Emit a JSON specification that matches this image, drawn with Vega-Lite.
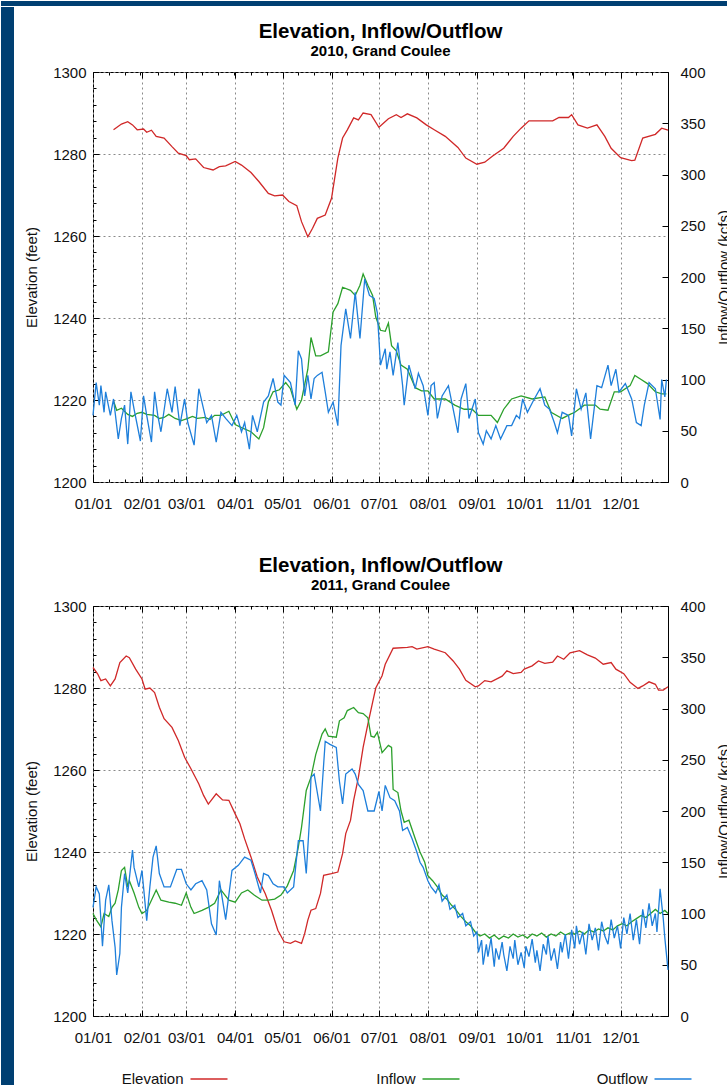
{
  "$schema": "https://vega.github.io/schema/vega-lite/v6.json",
  "padding": 0,
  "background": "white",
  "config": {
    "font": "Liberation Sans",
    "view": {"stroke": "#000000", "strokeWidth": 1},
    "axis": {"domain": false, "labelFont": "Liberation Sans", "labelFontSize": 15, "labelColor": "#111111", "titleFont": "Liberation Sans", "titleFontSize": 15, "titleFontWeight": "normal", "titleColor": "#111111", "tickColor": "#000000", "tickWidth": 1, "gridColor": "#8a8a8a", "gridDash": [2, 3], "gridWidth": 1, "gridOpacity": 1},
    "title": {"font": "Liberation Sans", "fontSize": 20.5, "fontWeight": "bold", "color": "#000000", "subtitleFont": "Liberation Sans", "subtitleFontSize": 15, "subtitleFontWeight": "bold", "subtitleColor": "#000000", "anchor": "middle", "frame": "group", "offset": 6, "subtitlePadding": 2}
  },
  "datasets": {
    "legend": [{"series": "Elevation"}, {"series": "Inflow"}, {"series": "Outflow"}],
    "elev2010": [
      {"date":"2010-01-14","elevation":1285.9},{"date":"2010-01-19","elevation":1287.3},{"date":"2010-01-23","elevation":1287.9},{"date":"2010-01-26","elevation":1287.1},{"date":"2010-01-29","elevation":1285.9},{"date":"2010-02-02","elevation":1286.1},{"date":"2010-02-04","elevation":1285.3},{"date":"2010-02-07","elevation":1285.8},{"date":"2010-02-10","elevation":1284.3},{"date":"2010-02-15","elevation":1283.9},{"date":"2010-02-20","elevation":1281.8},{"date":"2010-02-24","elevation":1280.2},{"date":"2010-03-01","elevation":1279.6},{"date":"2010-03-03","elevation":1278.6},{"date":"2010-03-07","elevation":1278.8},{"date":"2010-03-12","elevation":1276.7},{"date":"2010-03-18","elevation":1276.1},{"date":"2010-03-22","elevation":1276.9},{"date":"2010-03-26","elevation":1277.1},{"date":"2010-04-01","elevation":1278.2},{"date":"2010-04-05","elevation":1277.3},{"date":"2010-04-11","elevation":1275.5},{"date":"2010-04-16","elevation":1273.3},{"date":"2010-04-22","elevation":1270.4},{"date":"2010-04-26","elevation":1269.8},{"date":"2010-05-01","elevation":1270.0},{"date":"2010-05-05","elevation":1268.4},{"date":"2010-05-10","elevation":1267.4},{"date":"2010-05-13","elevation":1263.5},{"date":"2010-05-17","elevation":1259.8},{"date":"2010-05-20","elevation":1261.9},{"date":"2010-05-23","elevation":1264.3},{"date":"2010-05-28","elevation":1265.1},{"date":"2010-06-01","elevation":1269.2},{"date":"2010-06-03","elevation":1274.1},{"date":"2010-06-05","elevation":1279.0},{"date":"2010-06-08","elevation":1283.9},{"date":"2010-06-11","elevation":1285.9},{"date":"2010-06-15","elevation":1288.8},{"date":"2010-06-18","elevation":1288.3},{"date":"2010-06-21","elevation":1290.0},{"date":"2010-06-26","elevation":1289.6},{"date":"2010-07-01","elevation":1286.5},{"date":"2010-07-07","elevation":1288.6},{"date":"2010-07-12","elevation":1289.6},{"date":"2010-07-15","elevation":1288.9},{"date":"2010-07-19","elevation":1289.8},{"date":"2010-07-25","elevation":1288.8},{"date":"2010-07-31","elevation":1287.1},{"date":"2010-08-05","elevation":1285.9},{"date":"2010-08-12","elevation":1284.3},{"date":"2010-08-20","elevation":1281.6},{"date":"2010-08-25","elevation":1279.0},{"date":"2010-09-01","elevation":1277.5},{"date":"2010-09-06","elevation":1278.0},{"date":"2010-09-11","elevation":1279.5},{"date":"2010-09-18","elevation":1281.4},{"date":"2010-09-24","elevation":1284.3},{"date":"2010-09-29","elevation":1286.3},{"date":"2010-10-04","elevation":1288.1},{"date":"2010-10-19","elevation":1288.1},{"date":"2010-10-23","elevation":1288.9},{"date":"2010-10-29","elevation":1288.9},{"date":"2010-10-31","elevation":1289.6},{"date":"2010-11-04","elevation":1287.1},{"date":"2010-11-10","elevation":1286.3},{"date":"2010-11-16","elevation":1287.1},{"date":"2010-11-21","elevation":1284.3},{"date":"2010-11-25","elevation":1281.4},{"date":"2010-12-01","elevation":1279.1},{"date":"2010-12-08","elevation":1278.4},{"date":"2010-12-10","elevation":1278.5},{"date":"2010-12-15","elevation":1283.9},{"date":"2010-12-23","elevation":1284.8},{"date":"2010-12-27","elevation":1286.3},{"date":"2010-12-31","elevation":1285.8}
    ],
    "flow2010": [
      {"date":"2010-01-14","series":"Inflow","kcfs":79},{"date":"2010-01-16","series":"Inflow","kcfs":70},{"date":"2010-01-19","series":"Inflow","kcfs":72},{"date":"2010-01-23","series":"Inflow","kcfs":66},{"date":"2010-01-26","series":"Inflow","kcfs":64},{"date":"2010-01-29","series":"Inflow","kcfs":67},{"date":"2010-02-01","series":"Inflow","kcfs":68},{"date":"2010-02-04","series":"Inflow","kcfs":66},{"date":"2010-02-09","series":"Inflow","kcfs":65},{"date":"2010-02-12","series":"Inflow","kcfs":62},{"date":"2010-02-15","series":"Inflow","kcfs":63},{"date":"2010-02-18","series":"Inflow","kcfs":66},{"date":"2010-02-22","series":"Inflow","kcfs":62},{"date":"2010-02-26","series":"Inflow","kcfs":60},{"date":"2010-03-02","series":"Inflow","kcfs":62},{"date":"2010-03-05","series":"Inflow","kcfs":64},{"date":"2010-03-08","series":"Inflow","kcfs":62},{"date":"2010-03-13","series":"Inflow","kcfs":63},{"date":"2010-03-16","series":"Inflow","kcfs":61},{"date":"2010-03-19","series":"Inflow","kcfs":65},{"date":"2010-03-23","series":"Inflow","kcfs":65},{"date":"2010-03-28","series":"Inflow","kcfs":69},{"date":"2010-04-01","series":"Inflow","kcfs":56},{"date":"2010-04-05","series":"Inflow","kcfs":53},{"date":"2010-04-11","series":"Inflow","kcfs":49},{"date":"2010-04-16","series":"Inflow","kcfs":42},{"date":"2010-04-19","series":"Inflow","kcfs":53},{"date":"2010-04-22","series":"Inflow","kcfs":78},{"date":"2010-04-25","series":"Inflow","kcfs":88},{"date":"2010-04-29","series":"Inflow","kcfs":90},{"date":"2010-05-03","series":"Inflow","kcfs":97},{"date":"2010-05-06","series":"Inflow","kcfs":91},{"date":"2010-05-10","series":"Inflow","kcfs":71},{"date":"2010-05-13","series":"Inflow","kcfs":80},{"date":"2010-05-17","series":"Inflow","kcfs":110},{"date":"2010-05-19","series":"Inflow","kcfs":141},{"date":"2010-05-22","series":"Inflow","kcfs":123},{"date":"2010-05-25","series":"Inflow","kcfs":123},{"date":"2010-05-30","series":"Inflow","kcfs":127},{"date":"2010-06-02","series":"Inflow","kcfs":166},{"date":"2010-06-05","series":"Inflow","kcfs":174},{"date":"2010-06-08","series":"Inflow","kcfs":190},{"date":"2010-06-13","series":"Inflow","kcfs":187},{"date":"2010-06-16","series":"Inflow","kcfs":182},{"date":"2010-06-19","series":"Inflow","kcfs":192},{"date":"2010-06-21","series":"Inflow","kcfs":203},{"date":"2010-06-24","series":"Inflow","kcfs":192},{"date":"2010-06-27","series":"Inflow","kcfs":182},{"date":"2010-06-29","series":"Inflow","kcfs":161},{"date":"2010-07-02","series":"Inflow","kcfs":148},{"date":"2010-07-05","series":"Inflow","kcfs":147},{"date":"2010-07-07","series":"Inflow","kcfs":155},{"date":"2010-07-09","series":"Inflow","kcfs":133},{"date":"2010-07-12","series":"Inflow","kcfs":128},{"date":"2010-07-15","series":"Inflow","kcfs":114},{"date":"2010-07-19","series":"Inflow","kcfs":110},{"date":"2010-07-24","series":"Inflow","kcfs":92},{"date":"2010-07-28","series":"Inflow","kcfs":89},{"date":"2010-08-01","series":"Inflow","kcfs":89},{"date":"2010-08-05","series":"Inflow","kcfs":81},{"date":"2010-08-12","series":"Inflow","kcfs":81},{"date":"2010-08-18","series":"Inflow","kcfs":75},{"date":"2010-08-24","series":"Inflow","kcfs":71},{"date":"2010-08-29","series":"Inflow","kcfs":71},{"date":"2010-09-02","series":"Inflow","kcfs":65},{"date":"2010-09-10","series":"Inflow","kcfs":65},{"date":"2010-09-14","series":"Inflow","kcfs":58},{"date":"2010-09-18","series":"Inflow","kcfs":71},{"date":"2010-09-23","series":"Inflow","kcfs":81},{"date":"2010-09-29","series":"Inflow","kcfs":84},{"date":"2010-10-06","series":"Inflow","kcfs":81},{"date":"2010-10-14","series":"Inflow","kcfs":83},{"date":"2010-10-18","series":"Inflow","kcfs":68},{"date":"2010-10-25","series":"Inflow","kcfs":62},{"date":"2010-10-30","series":"Inflow","kcfs":66},{"date":"2010-11-02","series":"Inflow","kcfs":68},{"date":"2010-11-08","series":"Inflow","kcfs":75},{"date":"2010-11-15","series":"Inflow","kcfs":75},{"date":"2010-11-18","series":"Inflow","kcfs":71},{"date":"2010-11-23","series":"Inflow","kcfs":70},{"date":"2010-11-27","series":"Inflow","kcfs":88},{"date":"2010-12-01","series":"Inflow","kcfs":88},{"date":"2010-12-07","series":"Inflow","kcfs":94},{"date":"2010-12-10","series":"Inflow","kcfs":104},{"date":"2010-12-14","series":"Inflow","kcfs":100},{"date":"2010-12-18","series":"Inflow","kcfs":96},{"date":"2010-12-23","series":"Inflow","kcfs":88},{"date":"2010-12-27","series":"Inflow","kcfs":86},{"date":"2010-12-30","series":"Inflow","kcfs":86},
      {"date":"2010-01-01","series":"Outflow","kcfs":65},{"date":"2010-01-03","series":"Outflow","kcfs":97},{"date":"2010-01-05","series":"Outflow","kcfs":75},{"date":"2010-01-06","series":"Outflow","kcfs":94},{"date":"2010-01-08","series":"Outflow","kcfs":68},{"date":"2010-01-09","series":"Outflow","kcfs":88},{"date":"2010-01-12","series":"Outflow","kcfs":65},{"date":"2010-01-14","series":"Outflow","kcfs":81},{"date":"2010-01-17","series":"Outflow","kcfs":42},{"date":"2010-01-19","series":"Outflow","kcfs":62},{"date":"2010-01-21","series":"Outflow","kcfs":75},{"date":"2010-01-23","series":"Outflow","kcfs":37},{"date":"2010-01-25","series":"Outflow","kcfs":88},{"date":"2010-01-27","series":"Outflow","kcfs":71},{"date":"2010-01-31","series":"Outflow","kcfs":40},{"date":"2010-02-02","series":"Outflow","kcfs":84},{"date":"2010-02-04","series":"Outflow","kcfs":65},{"date":"2010-02-07","series":"Outflow","kcfs":39},{"date":"2010-02-09","series":"Outflow","kcfs":88},{"date":"2010-02-11","series":"Outflow","kcfs":65},{"date":"2010-02-13","series":"Outflow","kcfs":49},{"date":"2010-02-17","series":"Outflow","kcfs":91},{"date":"2010-02-20","series":"Outflow","kcfs":68},{"date":"2010-02-22","series":"Outflow","kcfs":93},{"date":"2010-02-25","series":"Outflow","kcfs":55},{"date":"2010-02-28","series":"Outflow","kcfs":81},{"date":"2010-03-02","series":"Outflow","kcfs":58},{"date":"2010-03-06","series":"Outflow","kcfs":36},{"date":"2010-03-09","series":"Outflow","kcfs":91},{"date":"2010-03-12","series":"Outflow","kcfs":71},{"date":"2010-03-14","series":"Outflow","kcfs":58},{"date":"2010-03-17","series":"Outflow","kcfs":65},{"date":"2010-03-20","series":"Outflow","kcfs":39},{"date":"2010-03-23","series":"Outflow","kcfs":68},{"date":"2010-03-26","series":"Outflow","kcfs":62},{"date":"2010-03-30","series":"Outflow","kcfs":55},{"date":"2010-04-02","series":"Outflow","kcfs":65},{"date":"2010-04-05","series":"Outflow","kcfs":49},{"date":"2010-04-07","series":"Outflow","kcfs":58},{"date":"2010-04-10","series":"Outflow","kcfs":32},{"date":"2010-04-12","series":"Outflow","kcfs":65},{"date":"2010-04-15","series":"Outflow","kcfs":49},{"date":"2010-04-19","series":"Outflow","kcfs":78},{"date":"2010-04-22","series":"Outflow","kcfs":84},{"date":"2010-04-25","series":"Outflow","kcfs":101},{"date":"2010-04-28","series":"Outflow","kcfs":78},{"date":"2010-04-30","series":"Outflow","kcfs":75},{"date":"2010-05-02","series":"Outflow","kcfs":104},{"date":"2010-05-06","series":"Outflow","kcfs":97},{"date":"2010-05-09","series":"Outflow","kcfs":75},{"date":"2010-05-11","series":"Outflow","kcfs":128},{"date":"2010-05-13","series":"Outflow","kcfs":120},{"date":"2010-05-15","series":"Outflow","kcfs":84},{"date":"2010-05-17","series":"Outflow","kcfs":104},{"date":"2010-05-19","series":"Outflow","kcfs":81},{"date":"2010-05-21","series":"Outflow","kcfs":101},{"date":"2010-05-23","series":"Outflow","kcfs":104},{"date":"2010-05-26","series":"Outflow","kcfs":107},{"date":"2010-05-28","series":"Outflow","kcfs":88},{"date":"2010-05-30","series":"Outflow","kcfs":68},{"date":"2010-06-02","series":"Outflow","kcfs":78},{"date":"2010-06-05","series":"Outflow","kcfs":55},{"date":"2010-06-07","series":"Outflow","kcfs":133},{"date":"2010-06-10","series":"Outflow","kcfs":169},{"date":"2010-06-13","series":"Outflow","kcfs":140},{"date":"2010-06-16","series":"Outflow","kcfs":185},{"date":"2010-06-19","series":"Outflow","kcfs":140},{"date":"2010-06-22","series":"Outflow","kcfs":198},{"date":"2010-06-25","series":"Outflow","kcfs":182},{"date":"2010-06-28","series":"Outflow","kcfs":179},{"date":"2010-06-30","series":"Outflow","kcfs":165},{"date":"2010-07-02","series":"Outflow","kcfs":114},{"date":"2010-07-05","series":"Outflow","kcfs":130},{"date":"2010-07-06","series":"Outflow","kcfs":110},{"date":"2010-07-08","series":"Outflow","kcfs":127},{"date":"2010-07-10","series":"Outflow","kcfs":104},{"date":"2010-07-13","series":"Outflow","kcfs":136},{"date":"2010-07-16","series":"Outflow","kcfs":94},{"date":"2010-07-17","series":"Outflow","kcfs":75},{"date":"2010-07-20","series":"Outflow","kcfs":114},{"date":"2010-07-24","series":"Outflow","kcfs":91},{"date":"2010-07-26","series":"Outflow","kcfs":106},{"date":"2010-07-29","series":"Outflow","kcfs":94},{"date":"2010-08-01","series":"Outflow","kcfs":65},{"date":"2010-08-03","series":"Outflow","kcfs":94},{"date":"2010-08-05","series":"Outflow","kcfs":97},{"date":"2010-08-07","series":"Outflow","kcfs":62},{"date":"2010-08-10","series":"Outflow","kcfs":84},{"date":"2010-08-14","series":"Outflow","kcfs":94},{"date":"2010-08-17","series":"Outflow","kcfs":71},{"date":"2010-08-20","series":"Outflow","kcfs":48},{"date":"2010-08-22","series":"Outflow","kcfs":81},{"date":"2010-08-25","series":"Outflow","kcfs":96},{"date":"2010-08-27","series":"Outflow","kcfs":62},{"date":"2010-08-31","series":"Outflow","kcfs":81},{"date":"2010-09-02","series":"Outflow","kcfs":48},{"date":"2010-09-05","series":"Outflow","kcfs":37},{"date":"2010-09-07","series":"Outflow","kcfs":50},{"date":"2010-09-10","series":"Outflow","kcfs":42},{"date":"2010-09-13","series":"Outflow","kcfs":55},{"date":"2010-09-16","series":"Outflow","kcfs":42},{"date":"2010-09-20","series":"Outflow","kcfs":55},{"date":"2010-09-23","series":"Outflow","kcfs":55},{"date":"2010-09-26","series":"Outflow","kcfs":65},{"date":"2010-09-28","series":"Outflow","kcfs":62},{"date":"2010-09-30","series":"Outflow","kcfs":81},{"date":"2010-10-03","series":"Outflow","kcfs":68},{"date":"2010-10-07","series":"Outflow","kcfs":80},{"date":"2010-10-11","series":"Outflow","kcfs":91},{"date":"2010-10-14","series":"Outflow","kcfs":75},{"date":"2010-10-17","series":"Outflow","kcfs":71},{"date":"2010-10-20","series":"Outflow","kcfs":58},{"date":"2010-10-22","series":"Outflow","kcfs":48},{"date":"2010-10-25","series":"Outflow","kcfs":68},{"date":"2010-10-29","series":"Outflow","kcfs":65},{"date":"2010-10-31","series":"Outflow","kcfs":45},{"date":"2010-11-03","series":"Outflow","kcfs":91},{"date":"2010-11-06","series":"Outflow","kcfs":71},{"date":"2010-11-09","series":"Outflow","kcfs":87},{"date":"2010-11-12","series":"Outflow","kcfs":42},{"date":"2010-11-16","series":"Outflow","kcfs":94},{"date":"2010-11-19","series":"Outflow","kcfs":92},{"date":"2010-11-23","series":"Outflow","kcfs":114},{"date":"2010-11-25","series":"Outflow","kcfs":94},{"date":"2010-11-28","series":"Outflow","kcfs":110},{"date":"2010-11-30","series":"Outflow","kcfs":88},{"date":"2010-12-04","series":"Outflow","kcfs":96},{"date":"2010-12-08","series":"Outflow","kcfs":81},{"date":"2010-12-11","series":"Outflow","kcfs":58},{"date":"2010-12-14","series":"Outflow","kcfs":55},{"date":"2010-12-16","series":"Outflow","kcfs":75},{"date":"2010-12-19","series":"Outflow","kcfs":97},{"date":"2010-12-23","series":"Outflow","kcfs":91},{"date":"2010-12-26","series":"Outflow","kcfs":61},{"date":"2010-12-27","series":"Outflow","kcfs":100},{"date":"2010-12-29","series":"Outflow","kcfs":83},{"date":"2010-12-30","series":"Outflow","kcfs":100}
    ],
    "elev2011": [
      {"date":"2011-01-01","elevation":1285.0},{"date":"2011-01-04","elevation":1283.4},{"date":"2011-01-06","elevation":1281.8},{"date":"2011-01-09","elevation":1282.2},{"date":"2011-01-12","elevation":1280.5},{"date":"2011-01-15","elevation":1282.2},{"date":"2011-01-18","elevation":1286.2},{"date":"2011-01-22","elevation":1287.8},{"date":"2011-01-24","elevation":1287.4},{"date":"2011-01-28","elevation":1284.6},{"date":"2011-02-01","elevation":1282.2},{"date":"2011-02-03","elevation":1279.7},{"date":"2011-02-06","elevation":1280.0},{"date":"2011-02-09","elevation":1278.9},{"date":"2011-02-12","elevation":1275.3},{"date":"2011-02-15","elevation":1272.5},{"date":"2011-02-20","elevation":1270.4},{"date":"2011-02-24","elevation":1267.2},{"date":"2011-02-28","elevation":1263.1},{"date":"2011-03-04","elevation":1260.3},{"date":"2011-03-09","elevation":1256.6},{"date":"2011-03-12","elevation":1253.8},{"date":"2011-03-15","elevation":1251.7},{"date":"2011-03-20","elevation":1254.2},{"date":"2011-03-24","elevation":1252.7},{"date":"2011-03-28","elevation":1252.6},{"date":"2011-04-01","elevation":1249.3},{"date":"2011-04-04","elevation":1246.9},{"date":"2011-04-07","elevation":1243.2},{"date":"2011-04-11","elevation":1238.8},{"date":"2011-04-15","elevation":1233.9},{"date":"2011-04-20","elevation":1229.9},{"date":"2011-04-24","elevation":1225.8},{"date":"2011-04-28","elevation":1220.9},{"date":"2011-05-02","elevation":1218.1},{"date":"2011-05-06","elevation":1217.7},{"date":"2011-05-09","elevation":1218.3},{"date":"2011-05-13","elevation":1217.7},{"date":"2011-05-15","elevation":1220.1},{"date":"2011-05-17","elevation":1223.4},{"date":"2011-05-19","elevation":1225.8},{"date":"2011-05-22","elevation":1226.2},{"date":"2011-05-25","elevation":1229.9},{"date":"2011-05-27","elevation":1234.3},{"date":"2011-06-01","elevation":1234.7},{"date":"2011-06-05","elevation":1235.1},{"date":"2011-06-08","elevation":1239.6},{"date":"2011-06-10","elevation":1244.5},{"date":"2011-06-13","elevation":1247.7},{"date":"2011-06-15","elevation":1252.6},{"date":"2011-06-18","elevation":1258.2},{"date":"2011-06-21","elevation":1265.5},{"date":"2011-06-24","elevation":1271.2},{"date":"2011-06-27","elevation":1276.5},{"date":"2011-06-29","elevation":1280.0},{"date":"2011-07-03","elevation":1283.0},{"date":"2011-07-05","elevation":1285.8},{"date":"2011-07-10","elevation":1289.7},{"date":"2011-07-19","elevation":1289.9},{"date":"2011-07-22","elevation":1290.1},{"date":"2011-07-25","elevation":1289.5},{"date":"2011-08-01","elevation":1290.1},{"date":"2011-08-05","elevation":1289.5},{"date":"2011-08-12","elevation":1288.6},{"date":"2011-08-17","elevation":1286.6},{"date":"2011-08-21","elevation":1284.6},{"date":"2011-08-25","elevation":1281.9},{"date":"2011-08-31","elevation":1280.3},{"date":"2011-09-02","elevation":1280.5},{"date":"2011-09-06","elevation":1281.8},{"date":"2011-09-10","elevation":1281.5},{"date":"2011-09-17","elevation":1282.9},{"date":"2011-09-20","elevation":1284.2},{"date":"2011-09-24","elevation":1283.5},{"date":"2011-09-29","elevation":1283.8},{"date":"2011-10-01","elevation":1284.6},{"date":"2011-10-06","elevation":1285.4},{"date":"2011-10-10","elevation":1286.6},{"date":"2011-10-14","elevation":1286.0},{"date":"2011-10-19","elevation":1286.3},{"date":"2011-10-22","elevation":1287.8},{"date":"2011-10-26","elevation":1287.0},{"date":"2011-10-30","elevation":1288.6},{"date":"2011-11-05","elevation":1289.1},{"date":"2011-11-10","elevation":1288.1},{"date":"2011-11-15","elevation":1287.3},{"date":"2011-11-20","elevation":1285.8},{"date":"2011-11-25","elevation":1286.2},{"date":"2011-11-28","elevation":1284.6},{"date":"2011-12-03","elevation":1283.5},{"date":"2011-12-07","elevation":1281.4},{"date":"2011-12-12","elevation":1279.9},{"date":"2011-12-15","elevation":1280.5},{"date":"2011-12-19","elevation":1281.5},{"date":"2011-12-23","elevation":1280.9},{"date":"2011-12-25","elevation":1279.5},{"date":"2011-12-28","elevation":1279.5},{"date":"2011-12-31","elevation":1280.3}
    ],
    "flow2011": [
      {"date":"2011-01-01","series":"Inflow","kcfs":100},{"date":"2011-01-03","series":"Inflow","kcfs":94},{"date":"2011-01-06","series":"Inflow","kcfs":87},{"date":"2011-01-08","series":"Inflow","kcfs":100},{"date":"2011-01-11","series":"Inflow","kcfs":97},{"date":"2011-01-13","series":"Inflow","kcfs":106},{"date":"2011-01-15","series":"Inflow","kcfs":110},{"date":"2011-01-17","series":"Inflow","kcfs":123},{"date":"2011-01-19","series":"Inflow","kcfs":142},{"date":"2011-01-21","series":"Inflow","kcfs":145},{"date":"2011-01-23","series":"Inflow","kcfs":126},{"date":"2011-01-24","series":"Inflow","kcfs":132},{"date":"2011-01-27","series":"Inflow","kcfs":120},{"date":"2011-01-30","series":"Inflow","kcfs":106},{"date":"2011-02-01","series":"Inflow","kcfs":100},{"date":"2011-02-04","series":"Inflow","kcfs":103},{"date":"2011-02-07","series":"Inflow","kcfs":113},{"date":"2011-02-10","series":"Inflow","kcfs":123},{"date":"2011-02-13","series":"Inflow","kcfs":113},{"date":"2011-02-18","series":"Inflow","kcfs":111},{"date":"2011-02-22","series":"Inflow","kcfs":110},{"date":"2011-02-26","series":"Inflow","kcfs":108},{"date":"2011-03-01","series":"Inflow","kcfs":120},{"date":"2011-03-04","series":"Inflow","kcfs":106},{"date":"2011-03-06","series":"Inflow","kcfs":100},{"date":"2011-03-11","series":"Inflow","kcfs":103},{"date":"2011-03-15","series":"Inflow","kcfs":106},{"date":"2011-03-19","series":"Inflow","kcfs":110},{"date":"2011-03-23","series":"Inflow","kcfs":123},{"date":"2011-03-28","series":"Inflow","kcfs":113},{"date":"2011-04-01","series":"Inflow","kcfs":111},{"date":"2011-04-05","series":"Inflow","kcfs":120},{"date":"2011-04-09","series":"Inflow","kcfs":123},{"date":"2011-04-13","series":"Inflow","kcfs":118},{"date":"2011-04-18","series":"Inflow","kcfs":113},{"date":"2011-04-22","series":"Inflow","kcfs":113},{"date":"2011-04-26","series":"Inflow","kcfs":114},{"date":"2011-04-30","series":"Inflow","kcfs":118},{"date":"2011-05-04","series":"Inflow","kcfs":127},{"date":"2011-05-08","series":"Inflow","kcfs":142},{"date":"2011-05-11","series":"Inflow","kcfs":165},{"date":"2011-05-13","series":"Inflow","kcfs":184},{"date":"2011-05-16","series":"Inflow","kcfs":220},{"date":"2011-05-19","series":"Inflow","kcfs":233},{"date":"2011-05-22","series":"Inflow","kcfs":255},{"date":"2011-05-26","series":"Inflow","kcfs":275},{"date":"2011-05-28","series":"Inflow","kcfs":280},{"date":"2011-05-30","series":"Inflow","kcfs":273},{"date":"2011-06-04","series":"Inflow","kcfs":272},{"date":"2011-06-06","series":"Inflow","kcfs":288},{"date":"2011-06-09","series":"Inflow","kcfs":291},{"date":"2011-06-11","series":"Inflow","kcfs":298},{"date":"2011-06-15","series":"Inflow","kcfs":301},{"date":"2011-06-18","series":"Inflow","kcfs":296},{"date":"2011-06-21","series":"Inflow","kcfs":295},{"date":"2011-06-24","series":"Inflow","kcfs":291},{"date":"2011-06-26","series":"Inflow","kcfs":273},{"date":"2011-06-28","series":"Inflow","kcfs":272},{"date":"2011-06-30","series":"Inflow","kcfs":277},{"date":"2011-07-03","series":"Inflow","kcfs":257},{"date":"2011-07-07","series":"Inflow","kcfs":264},{"date":"2011-07-09","series":"Inflow","kcfs":262},{"date":"2011-07-10","series":"Inflow","kcfs":221},{"date":"2011-07-13","series":"Inflow","kcfs":218},{"date":"2011-07-15","series":"Inflow","kcfs":200},{"date":"2011-07-17","series":"Inflow","kcfs":189},{"date":"2011-07-20","series":"Inflow","kcfs":191},{"date":"2011-07-24","series":"Inflow","kcfs":173},{"date":"2011-07-27","series":"Inflow","kcfs":160},{"date":"2011-07-30","series":"Inflow","kcfs":150},{"date":"2011-08-01","series":"Inflow","kcfs":137},{"date":"2011-08-04","series":"Inflow","kcfs":132},{"date":"2011-08-07","series":"Inflow","kcfs":126},{"date":"2011-08-10","series":"Inflow","kcfs":118},{"date":"2011-08-13","series":"Inflow","kcfs":114},{"date":"2011-08-16","series":"Inflow","kcfs":108},{"date":"2011-08-19","series":"Inflow","kcfs":103},{"date":"2011-08-22","series":"Inflow","kcfs":97},{"date":"2011-08-25","series":"Inflow","kcfs":92},{"date":"2011-08-28","series":"Inflow","kcfs":88},{"date":"2011-08-31","series":"Inflow","kcfs":82},{"date":"2011-09-03","series":"Inflow","kcfs":78},{"date":"2011-09-06","series":"Inflow","kcfs":80},{"date":"2011-09-09","series":"Inflow","kcfs":76},{"date":"2011-09-12","series":"Inflow","kcfs":79},{"date":"2011-09-15","series":"Inflow","kcfs":75},{"date":"2011-09-18","series":"Inflow","kcfs":78},{"date":"2011-09-21","series":"Inflow","kcfs":76},{"date":"2011-09-24","series":"Inflow","kcfs":80},{"date":"2011-09-27","series":"Inflow","kcfs":77},{"date":"2011-09-30","series":"Inflow","kcfs":79},{"date":"2011-10-03","series":"Inflow","kcfs":76},{"date":"2011-10-06","series":"Inflow","kcfs":80},{"date":"2011-10-09","series":"Inflow","kcfs":78},{"date":"2011-10-12","series":"Inflow","kcfs":81},{"date":"2011-10-15","series":"Inflow","kcfs":77},{"date":"2011-10-18","series":"Inflow","kcfs":80},{"date":"2011-10-21","series":"Inflow","kcfs":78},{"date":"2011-10-24","series":"Inflow","kcfs":82},{"date":"2011-10-27","series":"Inflow","kcfs":79},{"date":"2011-10-30","series":"Inflow","kcfs":81},{"date":"2011-11-02","series":"Inflow","kcfs":80},{"date":"2011-11-05","series":"Inflow","kcfs":83},{"date":"2011-11-08","series":"Inflow","kcfs":80},{"date":"2011-11-11","series":"Inflow","kcfs":84},{"date":"2011-11-14","series":"Inflow","kcfs":82},{"date":"2011-11-17","series":"Inflow","kcfs":85},{"date":"2011-11-20","series":"Inflow","kcfs":83},{"date":"2011-11-23","series":"Inflow","kcfs":86},{"date":"2011-11-26","series":"Inflow","kcfs":84},{"date":"2011-11-29","series":"Inflow","kcfs":88},{"date":"2011-12-02","series":"Inflow","kcfs":90},{"date":"2011-12-05","series":"Inflow","kcfs":88},{"date":"2011-12-08","series":"Inflow","kcfs":92},{"date":"2011-12-11","series":"Inflow","kcfs":95},{"date":"2011-12-14","series":"Inflow","kcfs":98},{"date":"2011-12-17","series":"Inflow","kcfs":96},{"date":"2011-12-20","series":"Inflow","kcfs":100},{"date":"2011-12-23","series":"Inflow","kcfs":104},{"date":"2011-12-26","series":"Inflow","kcfs":100},{"date":"2011-12-29","series":"Inflow","kcfs":103},{"date":"2011-12-31","series":"Inflow","kcfs":100},
      {"date":"2011-01-01","series":"Outflow","kcfs":106},{"date":"2011-01-03","series":"Outflow","kcfs":126},{"date":"2011-01-05","series":"Outflow","kcfs":119},{"date":"2011-01-07","series":"Outflow","kcfs":68},{"date":"2011-01-09","series":"Outflow","kcfs":113},{"date":"2011-01-11","series":"Outflow","kcfs":128},{"date":"2011-01-13","series":"Outflow","kcfs":93},{"date":"2011-01-15","series":"Outflow","kcfs":67},{"date":"2011-01-16","series":"Outflow","kcfs":40},{"date":"2011-01-18","series":"Outflow","kcfs":61},{"date":"2011-01-19","series":"Outflow","kcfs":106},{"date":"2011-01-21","series":"Outflow","kcfs":139},{"date":"2011-01-23","series":"Outflow","kcfs":120},{"date":"2011-01-26","series":"Outflow","kcfs":162},{"date":"2011-01-27","series":"Outflow","kcfs":145},{"date":"2011-01-30","series":"Outflow","kcfs":126},{"date":"2011-02-01","series":"Outflow","kcfs":142},{"date":"2011-02-04","series":"Outflow","kcfs":93},{"date":"2011-02-06","series":"Outflow","kcfs":126},{"date":"2011-02-08","series":"Outflow","kcfs":155},{"date":"2011-02-10","series":"Outflow","kcfs":166},{"date":"2011-02-12","series":"Outflow","kcfs":139},{"date":"2011-02-15","series":"Outflow","kcfs":126},{"date":"2011-02-19","series":"Outflow","kcfs":126},{"date":"2011-02-23","series":"Outflow","kcfs":143},{"date":"2011-02-26","series":"Outflow","kcfs":143},{"date":"2011-03-01","series":"Outflow","kcfs":129},{"date":"2011-03-04","series":"Outflow","kcfs":123},{"date":"2011-03-07","series":"Outflow","kcfs":129},{"date":"2011-03-11","series":"Outflow","kcfs":132},{"date":"2011-03-14","series":"Outflow","kcfs":123},{"date":"2011-03-17","series":"Outflow","kcfs":90},{"date":"2011-03-20","series":"Outflow","kcfs":79},{"date":"2011-03-22","series":"Outflow","kcfs":132},{"date":"2011-03-26","series":"Outflow","kcfs":94},{"date":"2011-03-30","series":"Outflow","kcfs":142},{"date":"2011-04-03","series":"Outflow","kcfs":147},{"date":"2011-04-07","series":"Outflow","kcfs":155},{"date":"2011-04-11","series":"Outflow","kcfs":152},{"date":"2011-04-13","series":"Outflow","kcfs":142},{"date":"2011-04-17","series":"Outflow","kcfs":120},{"date":"2011-04-19","series":"Outflow","kcfs":139},{"date":"2011-04-22","series":"Outflow","kcfs":137},{"date":"2011-04-25","series":"Outflow","kcfs":129},{"date":"2011-04-28","series":"Outflow","kcfs":126},{"date":"2011-05-02","series":"Outflow","kcfs":126},{"date":"2011-05-04","series":"Outflow","kcfs":120},{"date":"2011-05-08","series":"Outflow","kcfs":126},{"date":"2011-05-11","series":"Outflow","kcfs":171},{"date":"2011-05-14","series":"Outflow","kcfs":171},{"date":"2011-05-16","series":"Outflow","kcfs":139},{"date":"2011-05-18","series":"Outflow","kcfs":190},{"date":"2011-05-19","series":"Outflow","kcfs":233},{"date":"2011-05-21","series":"Outflow","kcfs":236},{"date":"2011-05-25","series":"Outflow","kcfs":200},{"date":"2011-05-28","series":"Outflow","kcfs":268},{"date":"2011-05-31","series":"Outflow","kcfs":265},{"date":"2011-06-04","series":"Outflow","kcfs":262},{"date":"2011-06-06","series":"Outflow","kcfs":229},{"date":"2011-06-08","series":"Outflow","kcfs":207},{"date":"2011-06-10","series":"Outflow","kcfs":236},{"date":"2011-06-14","series":"Outflow","kcfs":241},{"date":"2011-06-16","series":"Outflow","kcfs":236},{"date":"2011-06-18","series":"Outflow","kcfs":226},{"date":"2011-06-21","series":"Outflow","kcfs":220},{"date":"2011-06-24","series":"Outflow","kcfs":200},{"date":"2011-06-28","series":"Outflow","kcfs":200},{"date":"2011-07-01","series":"Outflow","kcfs":219},{"date":"2011-07-03","series":"Outflow","kcfs":200},{"date":"2011-07-05","series":"Outflow","kcfs":225},{"date":"2011-07-08","series":"Outflow","kcfs":213},{"date":"2011-07-11","series":"Outflow","kcfs":210},{"date":"2011-07-14","series":"Outflow","kcfs":200},{"date":"2011-07-16","series":"Outflow","kcfs":181},{"date":"2011-07-19","series":"Outflow","kcfs":184},{"date":"2011-07-22","series":"Outflow","kcfs":173},{"date":"2011-07-25","series":"Outflow","kcfs":160},{"date":"2011-07-27","series":"Outflow","kcfs":150},{"date":"2011-07-29","series":"Outflow","kcfs":145},{"date":"2011-08-01","series":"Outflow","kcfs":132},{"date":"2011-08-03","series":"Outflow","kcfs":126},{"date":"2011-08-06","series":"Outflow","kcfs":120},{"date":"2011-08-08","series":"Outflow","kcfs":128},{"date":"2011-08-10","series":"Outflow","kcfs":112},{"date":"2011-08-13","series":"Outflow","kcfs":118},{"date":"2011-08-15","series":"Outflow","kcfs":104},{"date":"2011-08-18","series":"Outflow","kcfs":108},{"date":"2011-08-20","series":"Outflow","kcfs":96},{"date":"2011-08-23","series":"Outflow","kcfs":100},{"date":"2011-08-25","series":"Outflow","kcfs":88},{"date":"2011-08-28","series":"Outflow","kcfs":92},{"date":"2011-08-30","series":"Outflow","kcfs":78},{"date":"2011-09-01","series":"Outflow","kcfs":82},{"date":"2011-09-02","series":"Outflow","kcfs":62},{"date":"2011-09-04","series":"Outflow","kcfs":74},{"date":"2011-09-05","series":"Outflow","kcfs":50},{"date":"2011-09-07","series":"Outflow","kcfs":70},{"date":"2011-09-08","series":"Outflow","kcfs":58},{"date":"2011-09-10","series":"Outflow","kcfs":76},{"date":"2011-09-12","series":"Outflow","kcfs":48},{"date":"2011-09-13","series":"Outflow","kcfs":66},{"date":"2011-09-15","series":"Outflow","kcfs":55},{"date":"2011-09-17","series":"Outflow","kcfs":72},{"date":"2011-09-18","series":"Outflow","kcfs":60},{"date":"2011-09-20","series":"Outflow","kcfs":44},{"date":"2011-09-22","series":"Outflow","kcfs":68},{"date":"2011-09-24","series":"Outflow","kcfs":56},{"date":"2011-09-25","series":"Outflow","kcfs":74},{"date":"2011-09-27","series":"Outflow","kcfs":50},{"date":"2011-09-29","series":"Outflow","kcfs":62},{"date":"2011-10-01","series":"Outflow","kcfs":47},{"date":"2011-10-02","series":"Outflow","kcfs":68},{"date":"2011-10-04","series":"Outflow","kcfs":58},{"date":"2011-10-06","series":"Outflow","kcfs":75},{"date":"2011-10-08","series":"Outflow","kcfs":52},{"date":"2011-10-09","series":"Outflow","kcfs":64},{"date":"2011-10-11","series":"Outflow","kcfs":44},{"date":"2011-10-13","series":"Outflow","kcfs":70},{"date":"2011-10-15","series":"Outflow","kcfs":60},{"date":"2011-10-16","series":"Outflow","kcfs":78},{"date":"2011-10-18","series":"Outflow","kcfs":54},{"date":"2011-10-20","series":"Outflow","kcfs":66},{"date":"2011-10-22","series":"Outflow","kcfs":46},{"date":"2011-10-24","series":"Outflow","kcfs":72},{"date":"2011-10-25","series":"Outflow","kcfs":62},{"date":"2011-10-27","series":"Outflow","kcfs":80},{"date":"2011-10-29","series":"Outflow","kcfs":56},{"date":"2011-10-31","series":"Outflow","kcfs":84},{"date":"2011-11-02","series":"Outflow","kcfs":66},{"date":"2011-11-03","series":"Outflow","kcfs":88},{"date":"2011-11-05","series":"Outflow","kcfs":70},{"date":"2011-11-07","series":"Outflow","kcfs":82},{"date":"2011-11-09","series":"Outflow","kcfs":60},{"date":"2011-11-11","series":"Outflow","kcfs":90},{"date":"2011-11-13","series":"Outflow","kcfs":74},{"date":"2011-11-15","series":"Outflow","kcfs":86},{"date":"2011-11-17","series":"Outflow","kcfs":64},{"date":"2011-11-19","series":"Outflow","kcfs":92},{"date":"2011-11-21","series":"Outflow","kcfs":78},{"date":"2011-11-23","series":"Outflow","kcfs":70},{"date":"2011-11-25","series":"Outflow","kcfs":94},{"date":"2011-11-27","series":"Outflow","kcfs":76},{"date":"2011-11-29","series":"Outflow","kcfs":88},{"date":"2011-12-01","series":"Outflow","kcfs":66},{"date":"2011-12-03","series":"Outflow","kcfs":96},{"date":"2011-12-05","series":"Outflow","kcfs":80},{"date":"2011-12-07","series":"Outflow","kcfs":100},{"date":"2011-12-09","series":"Outflow","kcfs":74},{"date":"2011-12-11","series":"Outflow","kcfs":94},{"date":"2011-12-13","series":"Outflow","kcfs":70},{"date":"2011-12-15","series":"Outflow","kcfs":104},{"date":"2011-12-17","series":"Outflow","kcfs":86},{"date":"2011-12-19","series":"Outflow","kcfs":110},{"date":"2011-12-21","series":"Outflow","kcfs":88},{"date":"2011-12-23","series":"Outflow","kcfs":100},{"date":"2011-12-24","series":"Outflow","kcfs":82},{"date":"2011-12-26","series":"Outflow","kcfs":124},{"date":"2011-12-28","series":"Outflow","kcfs":95},{"date":"2011-12-29","series":"Outflow","kcfs":76},{"date":"2011-12-31","series":"Outflow","kcfs":45}
    ]
  },
  "spacing": 0,
  "vconcat": [
    {"width": 727, "height": 5, "data": {"values": [{}]}, "mark": {"type": "rule", "opacity": 0}, "encoding": {}, "view": {"fill": "#003F72", "stroke": null}},
    {
      "spacing": 10,
      "hconcat": [
        {"width": 13, "height": 1080, "data": {"values": [{}]}, "mark": {"type": "rule", "opacity": 0}, "encoding": {}, "view": {"fill": "#003F72", "stroke": null}},
        {
          "spacing": 13,
          "vconcat": [
            {"width": 1, "height": 1, "data": {"values": [{}]}, "mark": {"type": "rule", "opacity": 0}, "encoding": {}, "view": {"stroke": null}},
            {
              "spacing": 43,
              "vconcat": [
                {
                  "width": 575, "height": 410,
                  "title": {"text": "Elevation, Inflow/Outflow", "subtitle": "2010, Grand Coulee"},
                  "layer": [
                    {
                      "data": {"name": "elev2010"},
                      "mark": {"type": "line", "color": "#D02828", "strokeWidth": 1.3},
                      "encoding": {
                        "x": {"field": "date", "type": "temporal", "scale": {"type": "utc", "domain": [{"year": 2010, "month": 1, "date": 1, "utc": true}, {"year": 2010, "month": 12, "date": 31, "utc": true}]}, "axis": {"orient": "bottom", "title": null, "tickCount": {"interval": "month", "step": 1}, "labelExpr": "utcFormat(datum.value, '%m/%d')", "grid": true, "tickSize": -6, "labelPadding": 20, "labelFlush": false, "labelOverlap": false}},
                        "y": {"field": "elevation", "type": "quantitative", "scale": {"domain": [1200, 1300], "nice": false, "zero": false}, "axis": {"orient": "left", "title": "Elevation (feet)", "format": "d", "values": [1200, 1220, 1240, 1260, 1280, 1300], "grid": true, "tickSize": -6, "labelPadding": 13, "titlePadding": 13}}
                      }
                    },
                    {
                      "data": {"name": "flow2010"},
                      "mark": {"type": "line", "strokeWidth": 1.3},
                      "encoding": {
                        "x": {"field": "date", "type": "temporal", "scale": {"type": "utc", "domain": [{"year": 2010, "month": 1, "date": 1, "utc": true}, {"year": 2010, "month": 12, "date": 31, "utc": true}]}, "axis": {"orient": "top", "title": null, "labels": false, "grid": false, "tickCount": {"interval": "month", "step": 1}, "tickSize": -6}},
                        "y": {"field": "kcfs", "type": "quantitative", "scale": {"domain": [0, 400], "nice": false}, "axis": {"orient": "right", "title": "Inflow/Outflow (kcfs)", "values": [0, 50, 100, 150, 200, 250, 300, 350, 400], "grid": false, "tickSize": -6, "labelPadding": 18, "titlePadding": 11, "titleAngle": 270, "titleBaseline": "top"}},
                        "color": {"field": "series", "type": "nominal", "scale": {"domain": ["Inflow", "Outflow"], "range": ["#2CA02C", "#1E7FDB"]}, "legend": null}
                      }
                    },
                    {
                      "data": {"name": "elev2010"},
                      "mark": {"type": "line", "opacity": 0},
                      "encoding": {
                        "x": {"field": "date", "type": "temporal", "scale": {"type": "utc", "domain": [{"year": 2010, "month": 1, "date": 1, "utc": true}, {"year": 2010, "month": 12, "date": 31, "utc": true}]}, "axis": {"orient": "bottom", "title": null, "labels": false, "grid": false, "tickCount": {"interval": "day", "step": 10}, "tickSize": -3}},
                        "y": {"field": "elevation", "type": "quantitative", "scale": {"domain": [1200, 1300], "nice": false, "zero": false}, "axis": {"orient": "left", "title": null, "labels": false, "grid": false, "values": [1204, 1208, 1212, 1216, 1224, 1228, 1232, 1236, 1244, 1248, 1252, 1256, 1264, 1268, 1272, 1276, 1284, 1288, 1292, 1296], "tickSize": -3}}
                      }
                    },
                    {
                      "data": {"name": "elev2010"},
                      "mark": {"type": "line", "opacity": 0},
                      "encoding": {
                        "x": {"field": "date", "type": "temporal", "scale": {"type": "utc", "domain": [{"year": 2010, "month": 1, "date": 1, "utc": true}, {"year": 2010, "month": 12, "date": 31, "utc": true}]}, "axis": {"orient": "top", "title": null, "labels": false, "grid": false, "tickCount": {"interval": "day", "step": 10}, "tickSize": -3}},
                        "y": {"field": "elevation", "type": "quantitative", "scale": {"domain": [1200, 1300], "nice": false, "zero": false}, "axis": null}
                      }
                    }
                  ],
                  "resolve": {"scale": {"y": "independent"}, "axis": {"x": "independent", "y": "independent"}}
                },
                {
                  "spacing": 26,
                  "vconcat": [
                    {
                      "width": 575, "height": 410,
                      "title": {"text": "Elevation, Inflow/Outflow", "subtitle": "2011, Grand Coulee"},
                      "layer": [
                        {
                          "data": {"name": "elev2011"},
                          "mark": {"type": "line", "color": "#D02828", "strokeWidth": 1.3},
                          "encoding": {
                            "x": {"field": "date", "type": "temporal", "scale": {"type": "utc", "domain": [{"year": 2011, "month": 1, "date": 1, "utc": true}, {"year": 2011, "month": 12, "date": 31, "utc": true}]}, "axis": {"orient": "bottom", "title": null, "tickCount": {"interval": "month", "step": 1}, "labelExpr": "utcFormat(datum.value, '%m/%d')", "grid": true, "tickSize": -6, "labelPadding": 20, "labelFlush": false, "labelOverlap": false}},
                            "y": {"field": "elevation", "type": "quantitative", "scale": {"domain": [1200, 1300], "nice": false, "zero": false}, "axis": {"orient": "left", "title": "Elevation (feet)", "format": "d", "values": [1200, 1220, 1240, 1260, 1280, 1300], "grid": true, "tickSize": -6, "labelPadding": 13, "titlePadding": 13}}
                          }
                        },
                        {
                          "data": {"name": "flow2011"},
                          "mark": {"type": "line", "strokeWidth": 1.3},
                          "encoding": {
                            "x": {"field": "date", "type": "temporal", "scale": {"type": "utc", "domain": [{"year": 2011, "month": 1, "date": 1, "utc": true}, {"year": 2011, "month": 12, "date": 31, "utc": true}]}, "axis": {"orient": "top", "title": null, "labels": false, "grid": false, "tickCount": {"interval": "month", "step": 1}, "tickSize": -6}},
                            "y": {"field": "kcfs", "type": "quantitative", "scale": {"domain": [0, 400], "nice": false}, "axis": {"orient": "right", "title": "Inflow/Outflow (kcfs)", "values": [0, 50, 100, 150, 200, 250, 300, 350, 400], "grid": false, "tickSize": -6, "labelPadding": 18, "titlePadding": 11, "titleAngle": 270, "titleBaseline": "top"}},
                            "color": {"field": "series", "type": "nominal", "scale": {"domain": ["Inflow", "Outflow"], "range": ["#2CA02C", "#1E7FDB"]}, "legend": null}
                          }
                        },
                        {
                          "data": {"name": "elev2011"},
                          "mark": {"type": "line", "opacity": 0},
                          "encoding": {
                            "x": {"field": "date", "type": "temporal", "scale": {"type": "utc", "domain": [{"year": 2011, "month": 1, "date": 1, "utc": true}, {"year": 2011, "month": 12, "date": 31, "utc": true}]}, "axis": {"orient": "bottom", "title": null, "labels": false, "grid": false, "tickCount": {"interval": "day", "step": 10}, "tickSize": -3}},
                            "y": {"field": "elevation", "type": "quantitative", "scale": {"domain": [1200, 1300], "nice": false, "zero": false}, "axis": {"orient": "left", "title": null, "labels": false, "grid": false, "values": [1204, 1208, 1212, 1216, 1224, 1228, 1232, 1236, 1244, 1248, 1252, 1256, 1264, 1268, 1272, 1276, 1284, 1288, 1292, 1296], "tickSize": -3}}
                          }
                        },
                        {
                          "data": {"name": "elev2011"},
                          "mark": {"type": "line", "opacity": 0},
                          "encoding": {
                            "x": {"field": "date", "type": "temporal", "scale": {"type": "utc", "domain": [{"year": 2011, "month": 1, "date": 1, "utc": true}, {"year": 2011, "month": 12, "date": 31, "utc": true}]}, "axis": {"orient": "top", "title": null, "labels": false, "grid": false, "tickCount": {"interval": "day", "step": 10}, "tickSize": -3}},
                            "y": {"field": "elevation", "type": "quantitative", "scale": {"domain": [1200, 1300], "nice": false, "zero": false}, "axis": null}
                          }
                        }
                      ],
                      "resolve": {"scale": {"y": "independent"}, "axis": {"x": "independent", "y": "independent"}}
                    },
                    {
                      "width": 575, "height": 14,
                      "data": {"name": "legend"},
                      "view": {"stroke": null},
                      "encoding": {
                        "x": {"field": "series", "type": "nominal", "sort": null, "scale": {"type": "point", "domain": ["Elevation", "Inflow", "Outflow"], "range": [116, 580], "padding": 0}, "axis": null}
                      },
                      "layer": [
                        {"mark": {"type": "point", "shape": "M-1,0L1,0", "size": 1369, "filled": false, "strokeWidth": 1.5, "opacity": 1},
                         "encoding": {"stroke": {"field": "series", "type": "nominal", "scale": {"domain": ["Elevation", "Inflow", "Outflow"], "range": ["#D02828", "#2CA02C", "#1E7FDB"]}, "legend": null}}},
                        {"mark": {"type": "text", "align": "right", "baseline": "middle", "dx": -25.5, "fontSize": 15, "font": "Liberation Sans", "color": "#111111"},
                         "encoding": {"text": {"field": "series", "type": "nominal"}}}
                      ]
                    }
                  ]
                }
              ]
            }
          ]
        }
      ]
    }
  ]
}
